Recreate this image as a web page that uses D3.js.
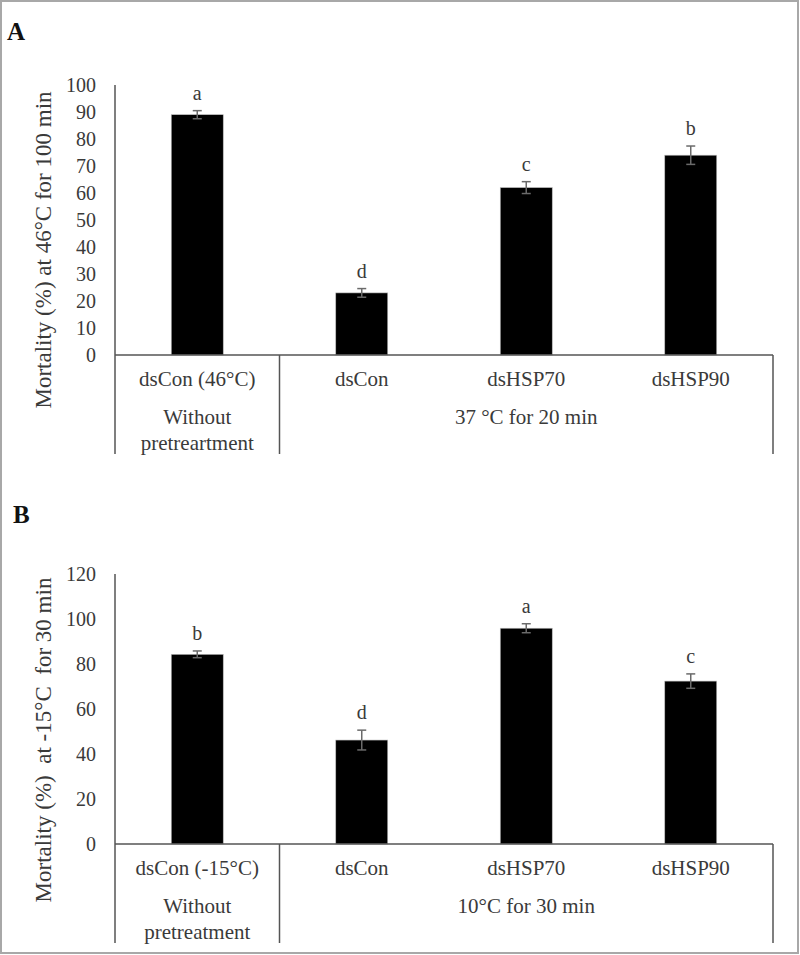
<!DOCTYPE html>
<html><head><meta charset="utf-8">
<script src="https://cdn.jsdelivr.net/npm/d3@7"></script>
<style>body{margin:0;background:#fff} svg{display:block}</style>
</head><body><svg width="800" height="955"></svg>
<script>
// ---- Data ----
const categoriesA = ["dsCon (46°C)", "dsCon", "dsHSP70", "dsHSP90"];
const valuesA = [89, 23, 62, 74];
const errorsA = [1.5, 1.6, 2.2, 3.4];
const lettersA = ["a", "d", "c", "b"];
const ticksA = [0, 10, 20, 30, 40, 50, 60, 70, 80, 90, 100];
const groupLabelsA = [["Without", "pretreartment"], ["37 °C for 20 min"]];
const titleA = "Mortality (%) at 46°C for 100 min";

const categoriesB = ["dsCon (-15°C)", "dsCon", "dsHSP70", "dsHSP90"];
const valuesB = [84.3, 46.2, 95.9, 72.4];
const errorsB = [1.5, 4.4, 2.0, 3.2];
const lettersB = ["b", "d", "a", "c"];
const ticksB = [0, 20, 40, 60, 80, 100, 120];
const groupLabelsB = [["Without", "pretreatment"], ["10°C for 30 min"]];
const titleB = "Mortality (%)  at -15°C  for 30 min";

const svg = d3.select("svg");
const FONT = "'Liberation Serif', 'Times New Roman', serif";
const TXT = "#3a3a3a";

svg.append("rect").attr("x", 1).attr("y", 1).attr("width", 797).attr("height", 952)
  .attr("fill", "#fff").attr("stroke", "#a8a8a8").attr("stroke-width", 2);

function panel(o) {
  const left = 115, right = 773;
  const x = d3.scaleBand().domain(o.categories).range([left, right])
    .paddingInner(0.684).paddingOuter(0.342);
  const y = d3.scaleLinear().domain([0, o.ticks[o.ticks.length - 1]]).range([o.y0, o.yTop]);
  const g = svg.append("g");

  // panel letter
  g.append("text").attr("x", o.labelX).attr("y", o.labelY).text(o.label)
    .attr("font-family", FONT).attr("font-weight", "bold").attr("font-size", 25).attr("fill", "#111");

  // y axis
  const ax = g.append("g").attr("transform", `translate(${left},0)`)
    .call(d3.axisLeft(y).tickValues(o.ticks).tickSize(0).tickPadding(19));
  ax.select(".domain").remove();
  ax.selectAll("text").attr("font-family", FONT).attr("font-size", 20).attr("fill", TXT);

  // y title
  g.append("text").attr("transform", `translate(51,${o.titleY}) rotate(-90)`)
    .attr("text-anchor", "middle").attr("font-family", FONT).attr("font-size", 23)
    .attr("fill", TXT).style("white-space", "pre").text(o.title);

  // bars
  g.selectAll("rect.bar").data(o.values).join("rect").attr("class", "bar")
    .attr("x", (d, i) => x(o.categories[i])).attr("width", x.bandwidth())
    .attr("y", d => y(d)).attr("height", d => y(0) - y(d))
    .attr("fill", "#000").attr("stroke", "#bbb").attr("stroke-width", 0.6);

  // error bars
  const cx = i => x(o.categories[i]) + x.bandwidth() / 2;
  const eg = g.append("g").attr("stroke", "#6a6a6a").attr("stroke-width", 1.5);
  o.values.forEach((v, i) => {
    const e = o.errors[i];
    eg.append("line").attr("x1", cx(i)).attr("x2", cx(i)).attr("y1", y(v + e)).attr("y2", y(v - e));
    eg.append("line").attr("x1", cx(i) - 4.5).attr("x2", cx(i) + 4.5).attr("y1", y(v + e)).attr("y2", y(v + e));
    eg.append("line").attr("x1", cx(i) - 4.5).attr("x2", cx(i) + 4.5).attr("y1", y(v - e)).attr("y2", y(v - e));
  });

  // letters
  g.selectAll("text.sig").data(o.letters).join("text").attr("class", "sig")
    .attr("x", (d, i) => cx(i)).attr("y", (d, i) => y(o.values[i] + o.errors[i]) - 11)
    .attr("text-anchor", "middle").attr("font-family", FONT).attr("font-size", 20)
    .attr("fill", TXT).text(d => d);

  // frame lines
  const lc = "#555";
  g.append("line").attr("x1", left).attr("x2", right).attr("y1", y(0)).attr("y2", y(0))
    .attr("stroke", lc).attr("stroke-width", 1.5);
  g.append("line").attr("x1", left).attr("x2", left).attr("y1", o.yTop).attr("y2", o.yBottom)
    .attr("stroke", lc).attr("stroke-width", 1.5);
  const div = left + x.step();
  g.append("line").attr("x1", div).attr("x2", div).attr("y1", y(0)).attr("y2", o.yBottom)
    .attr("stroke", lc).attr("stroke-width", 1.5);
  g.append("line").attr("x1", right).attr("x2", right).attr("y1", y(0)).attr("y2", o.yBottom)
    .attr("stroke", lc).attr("stroke-width", 1.5);

  // category labels
  g.selectAll("text.cat").data(o.categories).join("text").attr("class", "cat")
    .attr("x", (d, i) => cx(i)).attr("y", y(0) + 31)
    .attr("text-anchor", "middle").attr("font-family", FONT).attr("font-size", 21)
    .attr("fill", TXT).text(d => d);

  // group labels
  const gx = [cx(0), (div + right) / 2];
  o.groups.forEach((lines, gi) => {
    lines.forEach((t, li) => {
      g.append("text").attr("x", gx[gi]).attr("y", y(0) + 69 + li * 25.5)
        .attr("text-anchor", "middle").attr("font-family", FONT).attr("font-size", 21)
        .attr("fill", TXT).text(t);
    });
  });
}

panel({label: "A", labelX: 7, labelY: 40, categories: categoriesA, values: valuesA, errors: errorsA,
  letters: lettersA, ticks: ticksA, groups: groupLabelsA, title: titleA,
  y0: 355, yTop: 85, yBottom: 454, titleY: 250});
panel({label: "B", labelX: 13, labelY: 523, categories: categoriesB, values: valuesB, errors: errorsB,
  letters: lettersB, ticks: ticksB, groups: groupLabelsB, title: titleB,
  y0: 844, yTop: 574, yBottom: 943, titleY: 740});
</script>
</body></html>
